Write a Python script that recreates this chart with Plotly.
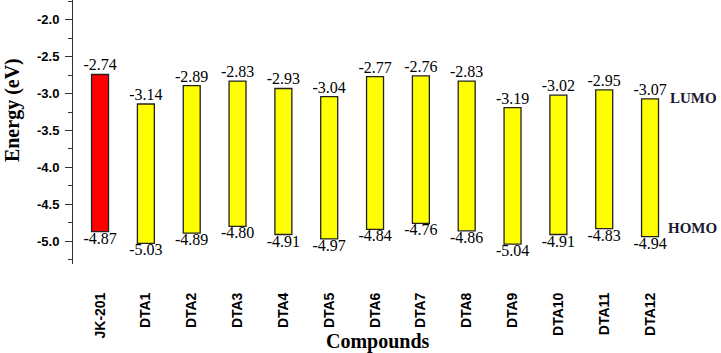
import plotly.graph_objects as go

compounds = ["JK-201", "DTA1", "DTA2", "DTA3", "DTA4", "DTA5", "DTA6",
             "DTA7", "DTA8", "DTA9", "DTA10", "DTA11", "DTA12"]
lumo = [-2.74, -3.14, -2.89, -2.83, -2.93, -3.04, -2.77, -2.76, -2.83, -3.19, -3.02, -2.95, -3.07]
homo = [-4.87, -5.03, -4.89, -4.80, -4.91, -4.97, -4.84, -4.76, -4.86, -5.04, -4.91, -4.83, -4.94]
ytick_vals = [-2.0, -2.5, -3.0, -3.5, -4.0, -4.5, -5.0]
ytick_labels = ["-2.0", "-2.5", "-3.0", "-3.5", "-4.0", "-4.5", "-5.0"]

colors = ["#ff0000"] + ["#ffff00"] * (len(compounds) - 1)
serif = "Liberation Serif, Times New Roman, serif"
sans = "Liberation Sans, Arial, sans-serif"

fig = go.Figure()
fig.add_trace(go.Bar(
    x=compounds,
    y=[l - h for l, h in zip(lumo, homo)],
    base=homo,
    width=0.37,
    marker=dict(color=colors, line=dict(color="#222222", width=1.3)),
    showlegend=False,
    hoverinfo="skip",
))
fig.add_trace(go.Scatter(
    x=compounds, y=lumo, mode="text",
    text=[f"{v:.2f}" for v in lumo], textposition="top center",
    textfont=dict(family=serif, size=16, color="black"),
    showlegend=False, hoverinfo="skip",
))
fig.add_trace(go.Scatter(
    x=compounds, y=homo, mode="text",
    text=[f"{v:.2f}" for v in homo], textposition="bottom center",
    textfont=dict(family=serif, size=16, color="black"),
    showlegend=False, hoverinfo="skip",
))

fig.update_layout(
    width=721, height=353,
    margin=dict(l=73, r=21, t=0, b=89),
    paper_bgcolor="white", plot_bgcolor="white",
    xaxis=dict(
        range=[-0.59, 13.09],
        showline=False, showgrid=False, zeroline=False,
        ticks="outside", ticklen=22, tickcolor="rgba(0,0,0,0)",
        tickangle=-90,
        tickfont=dict(family=sans, size=14, color="black", weight="bold"),
    ),
    yaxis=dict(
        range=[-5.31, -1.73],
        showline=True, linecolor="#333333", linewidth=1,
        showgrid=False, zeroline=False,
        tickmode="array", tickvals=ytick_vals, ticktext=ytick_labels,
        ticks="outside", ticklen=7, tickcolor="#333333",
        ticklabelstandoff=3,
        minor=dict(tick0=-2.0, dtick=0.25, ticks="outside", ticklen=4, tickcolor="#333333"),
        tickfont=dict(family=sans, size=13, color="black", weight="bold"),
    ),
    annotations=[
        dict(text="Energy (eV)", xref="paper", yref="paper", x=0, xshift=-61,
             y=0.583, textangle=-90, showarrow=False, xanchor="center", yanchor="middle",
             font=dict(family=serif, size=20, color="black", weight="bold")),
        dict(text="Compounds", xref="paper", yref="paper", x=0.486, y=-0.295,
             showarrow=False, xanchor="center", yanchor="middle",
             font=dict(family=serif, size=20, color="black", weight="bold")),
        dict(text="LUMO", xref="paper", yref="paper", x=1.0303, y=0.629,
             showarrow=False, xanchor="right", yanchor="middle",
             font=dict(family=serif, size=15, color="#1a1a33", weight="bold")),
        dict(text="HOMO", xref="paper", yref="paper", x=1.0303, y=0.136,
             showarrow=False, xanchor="right", yanchor="middle",
             font=dict(family=serif, size=15, color="#1a1a33", weight="bold")),
    ],
)

fig.write_html("out.html")
